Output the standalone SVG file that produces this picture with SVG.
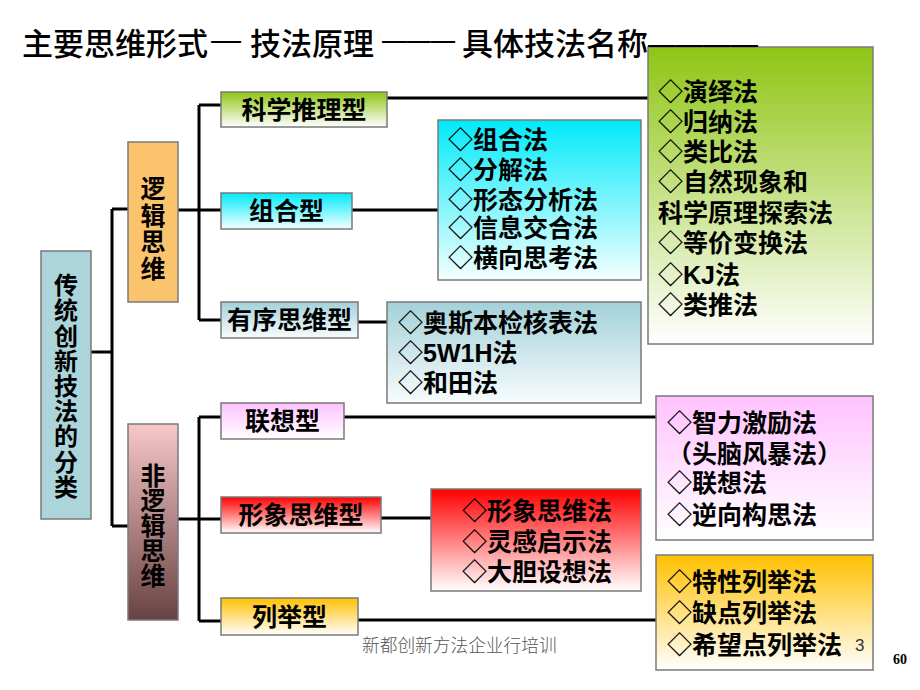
<svg xmlns="http://www.w3.org/2000/svg" width="920" height="690" viewBox="0 0 920 690">
<defs>
<linearGradient id="gGreen" x1="0" y1="0" x2="0" y2="1"><stop offset="0" stop-color="#8fc514"/><stop offset="1" stop-color="#ffffff"/></linearGradient>
<linearGradient id="gCyan" x1="0" y1="0" x2="0" y2="1"><stop offset="0" stop-color="#00eafa"/><stop offset="1" stop-color="#f4ffff"/></linearGradient>
<linearGradient id="gTeal" x1="0" y1="0" x2="0" y2="1"><stop offset="0" stop-color="#a3d1d9"/><stop offset="1" stop-color="#f8fcfd"/></linearGradient>
<linearGradient id="gPink" x1="0" y1="0" x2="0" y2="1"><stop offset="0" stop-color="#ffc2ff"/><stop offset="1" stop-color="#ffffff"/></linearGradient>
<linearGradient id="gRed" x1="0" y1="0" x2="0" y2="1"><stop offset="0" stop-color="#ff0000"/><stop offset="1" stop-color="#ffffff"/></linearGradient>
<linearGradient id="gGold" x1="0" y1="0" x2="0" y2="1"><stop offset="0" stop-color="#ffc000"/><stop offset="1" stop-color="#ffffff"/></linearGradient>
<linearGradient id="gBrown" x1="0" y1="0" x2="0" y2="1"><stop offset="0" stop-color="#f8c8c8"/><stop offset="1" stop-color="#684242"/></linearGradient>
</defs>
<style>
.box{stroke:#7a7a7a;stroke-width:1.5}
.conn{stroke:#000;stroke-width:3;fill:none}
.t{font-family:"Noto Sans CJK SC","Noto Sans",sans-serif;font-size:25px;font-weight:bold;fill:#000}
.c{text-anchor:middle}
.v{writing-mode:vertical-rl;text-anchor:start}
.lat{font-family:"Liberation Sans",Arial,sans-serif;font-weight:bold}
.title{font-family:"Noto Sans CJK SC",sans-serif;font-size:31px;font-weight:500;fill:#000}
.dash{font-family:"Liberation Sans",Arial,sans-serif;font-size:31px;fill:#000}
</style>
<rect width="920" height="690" fill="#ffffff"/>

<g id="connectors">
<path class="conn" d="M91,352H112M112,209V526M112,209H128M112,526H128"/>
<path class="conn" d="M178,210H221M199,105V320M199,105H221M199,320H221"/>
<path class="conn" d="M178,519H221M199,417V621M199,417H221M199,621H221"/>
<path class="conn" d="M387,98H648M352,210H438M358,322H387M344,417H656M381,518H431M358,620H656"/>
</g>

<g id="root">
<rect class="box" x="41" y="251" width="50" height="268" fill="#abd4db"/>
<text class="t v" x="66" y="273" style="font-size:24px;letter-spacing:1.2px">传统创新技法的分类</text>
</g>

<g id="logic">
<rect class="box" x="128" y="142" width="50" height="160" fill="#fbc46c"/>
<text class="t v" x="153" y="176" style="letter-spacing:1.6px">逻辑思维</text>
</g>

<g id="nonlogic">
<rect class="box" x="128" y="424" width="50" height="196" fill="url(#gBrown)"/>
<text class="t v" x="153" y="463">非逻辑思维</text>
</g>

<g id="kexue">
<rect class="box" x="221" y="92" width="166" height="35" fill="url(#gGreen)"/>
<text class="t c" x="304" y="119">科学推理型</text>
</g>
<g id="zuhe">
<rect class="box" x="221" y="193" width="131" height="36" fill="url(#gCyan)"/>
<text class="t c" x="286.5" y="220">组合型</text>
</g>
<g id="youxu">
<rect class="box" x="221" y="302" width="137" height="36" fill="url(#gTeal)"/>
<text class="t c" x="289.5" y="329">有序思维型</text>
</g>
<g id="lianxiang">
<rect class="box" x="221" y="403" width="123" height="36" fill="url(#gPink)"/>
<text class="t c" x="282.5" y="430">联想型</text>
</g>
<g id="xingxiang">
<rect class="box" x="221" y="497" width="160" height="36" fill="url(#gRed)"/>
<text class="t c" x="301" y="524">形象思维型</text>
</g>
<g id="lieju">
<rect class="box" x="221" y="598" width="137" height="37" fill="url(#gGold)"/>
<text class="t c" x="289.5" y="626">列举型</text>
</g>

<g id="methods-kexue">
<rect class="box" x="648" y="47" width="225" height="297" fill="url(#gGreen)"/>
<text class="t">
<tspan x="658" y="101">◇演绎法</tspan>
<tspan x="658" y="131">◇归纳法</tspan>
<tspan x="658" y="161">◇类比法</tspan>
<tspan x="658" y="191">◇自然现象和</tspan>
<tspan x="658" y="222">科学原理探索法</tspan>
<tspan x="658" y="252">◇等价变换法</tspan>
<tspan x="658" y="284">◇<tspan class="lat">KJ</tspan>法</tspan>
<tspan x="658" y="314">◇类推法</tspan>
</text>
</g>

<g id="methods-zuhe">
<rect class="box" x="438" y="120" width="203" height="160" fill="url(#gCyan)"/>
<text class="t">
<tspan x="448" y="149">◇组合法</tspan>
<tspan x="448" y="179">◇分解法</tspan>
<tspan x="448" y="209">◇形态分析法</tspan>
<tspan x="448" y="237">◇信息交合法</tspan>
<tspan x="448" y="267">◇横向思考法</tspan>
</text>
</g>

<g id="methods-youxu">
<rect class="box" x="387" y="302" width="254" height="101" fill="url(#gTeal)"/>
<text class="t">
<tspan x="398" y="332">◇奥斯本检核表法</tspan>
<tspan x="398" y="362">◇<tspan class="lat">5W1H</tspan>法</tspan>
<tspan x="398" y="392">◇和田法</tspan>
</text>
</g>

<g id="methods-lianxiang">
<rect class="box" x="656" y="396" width="217" height="144" fill="url(#gPink)"/>
<text class="t">
<tspan x="667" y="432">◇智力激励法</tspan>
<tspan x="667" y="463">（头脑风暴法）</tspan>
<tspan x="667" y="492">◇联想法</tspan>
<tspan x="667" y="524">◇逆向构思法</tspan>
</text>
</g>

<g id="methods-xingxiang">
<rect class="box" x="431" y="489" width="210" height="102" fill="url(#gRed)"/>
<text class="t">
<tspan x="462" y="520">◇形象思维法</tspan>
<tspan x="462" y="551">◇灵感启示法</tspan>
<tspan x="462" y="581">◇大胆设想法</tspan>
</text>
</g>

<g id="methods-lieju">
<rect class="box" x="656" y="555" width="217" height="115" fill="url(#gGold)"/>
<text class="t">
<tspan x="667" y="591">◇特性列举法</tspan>
<tspan x="667" y="622">◇缺点列举法</tspan>
<tspan x="667" y="654">◇希望点列举法</tspan>
</text>
</g>

<text class="title" x="22" y="55">主要思维形式</text>
<text class="dash" x="211" y="50" textLength="30" lengthAdjust="spacingAndGlyphs">—</text>
<text class="title" x="250" y="55">技法原理</text>
<text class="dash" x="382" y="50" textLength="73" lengthAdjust="spacingAndGlyphs">———</text>
<text class="title" x="462" y="55">具体技法名称</text>
<text class="dash" x="648" y="54" textLength="110" lengthAdjust="spacingAndGlyphs">————</text>

<text x="362" y="652" style="font-family:'Noto Sans CJK SC',sans-serif;font-size:17.7px;font-weight:300;fill:#555">新都创新方法企业行培训</text>
<text x="855" y="651" style="font-family:'Liberation Sans',Arial,sans-serif;font-size:17px;fill:#333">3</text>
<text x="893" y="664" style="font-family:'Liberation Serif','Times New Roman',serif;font-size:14px;font-weight:bold;fill:#000">60</text>
</svg>
